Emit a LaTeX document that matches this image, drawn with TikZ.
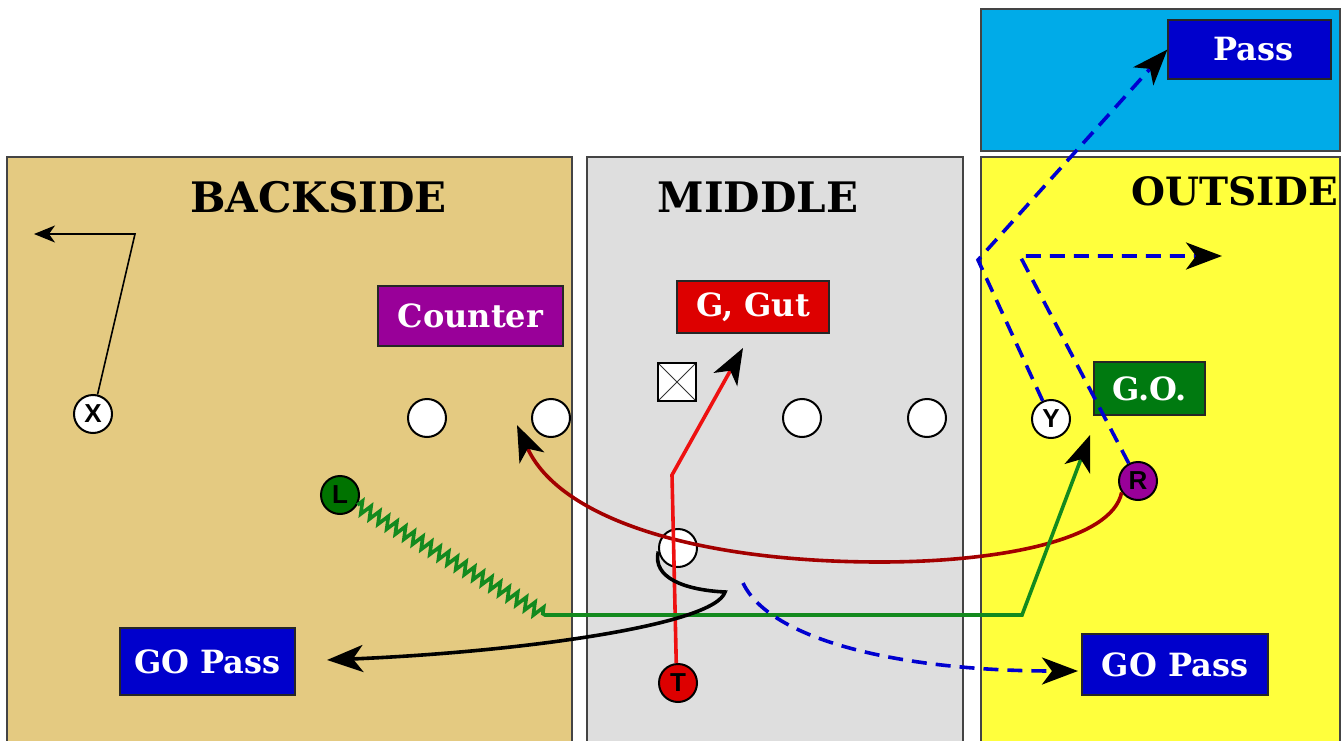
\documentclass[tikz,border=0pt]{standalone}
\usepackage{fontspec}
\usetikzlibrary{arrows.meta,decorations.pathmorphing}
\newfontfamily\titlefont{DejaVu Serif}
\newfontfamily\tagfont{Liberation Sans}

\definecolor{backtan}{HTML}{E4CA81}
\definecolor{midgray}{HTML}{DEDEDE}
\definecolor{outyellow}{HTML}{FFFF3C}
\definecolor{skyblue}{HTML}{00ABE8}
\definecolor{labelblue}{HTML}{0000CC}
\definecolor{counterpurple}{HTML}{990099}
\definecolor{gutred}{HTML}{DD0000}
\definecolor{gogreen}{HTML}{007A10}
\definecolor{routered}{HTML}{EE1111}
\definecolor{routedarkred}{HTML}{A30000}
\definecolor{routegreen}{HTML}{138A1E}
\definecolor{routeblue}{HTML}{0000D0}
\definecolor{panelline}{HTML}{444444}

\begin{document}
\begin{tikzpicture}[x=1pt,y=-1pt,
  panel/.style={draw=panelline,line width=1.6pt},
  zonetitle/.style={anchor=base,inner sep=0pt,font=\titlefont\bfseries\fontsize{42}{42}\selectfont},
  playlabel/.style={draw=black!85,line width=1.2pt,inner sep=0pt,text=white,
    font=\titlefont\bfseries\fontsize{32}{32}\selectfont},
  player/.style={circle,draw=black,line width=2pt,minimum size=38pt,inner sep=0pt,
    font=\tagfont\bfseries\fontsize{26}{26}\selectfont},
  bigtip/.style={-{Stealth[length=36pt,width=27pt,inset=10pt,color=black]}},
  smalltip/.style={-{Stealth[length=21pt,width=17pt,inset=6pt,color=black]}},
  route/.style={line width=3.6pt},
  blueroute/.style={route,draw=routeblue,dash pattern=on 15pt off 9pt}
]
\useasboundingbox (0,0) rectangle (1341,741);
\fill[white] (0,0) rectangle (1341,741);

% zone panels
\draw[panel,fill=backtan] (7,157) rectangle (572,760);
\draw[panel,fill=midgray] (587,157) rectangle (963,760);
\draw[panel,fill=outyellow] (981,157) rectangle (1340,760);
\draw[panel,fill=skyblue] (981,9) rectangle (1340,151);

% zone titles
\node[zonetitle] (tback) at (318.5,212) {BACKSIDE};
\node[zonetitle] (tmid) at (758,212) {MIDDLE};
\node[zonetitle,font=\titlefont\bfseries\fontsize{39}{39}\selectfont] (tout) at (1235,205) {OUTSIDE};

% play labels
\node[playlabel,fill=counterpurple,minimum width=185pt,minimum height=60pt] (counter) at (470.5,316) {Counter};
\node[playlabel,fill=gutred,minimum width=152pt,minimum height=52pt] (gut) at (753,307) {G, Gut};
\node[playlabel,fill=labelblue,minimum width=163pt,minimum height=59pt] (pass) at (1249.5,49.5) {\hspace*{8pt}Pass};
\node[playlabel,fill=gogreen,minimum width=111pt,minimum height=53pt] (go) at (1149.5,388.5) {G.O.};
\node[playlabel,fill=labelblue,minimum width=186pt,minimum height=61pt] (gopassR) at (1175,664.5) {GO Pass};
\node[playlabel,fill=labelblue,minimum width=175pt,minimum height=67pt] (gopassL) at (207.5,661.5) {GO Pass};

% offensive line and backs
\node[player,fill=white] (o1) at (427,418) {};
\node[player,fill=white] (o2) at (551,418) {};
\node[draw=black,line width=2.2pt,fill=white,minimum size=38pt,inner sep=0pt,
  path picture={\draw[line width=0.9pt,black!80]
    (path picture bounding box.north west) -- (path picture bounding box.south east)
    (path picture bounding box.north east) -- (path picture bounding box.south west);}]
  (C) at (677,382) {};
\node[player,fill=white] (o3) at (802,418) {};
\node[player,fill=white] (o4) at (927,418) {};
\node[player,fill=white] (QB) at (678,548) {};

\node[player,fill=white] (X) at (93,414) {X};
\node[player,fill=white] (Y) at (1051,419) {Y};
\node[player,fill=green!45!black] (L) at (340,495) {L};
\node[player,fill=gutred] (T) at (678,683) {T};
\node[player,fill=counterpurple] (R) at (1138,481) {R};

% route corners and ends
\coordinate (xc) at (135,234);
\coordinate (xt) at (34,234);
\coordinate (yc) at (978,260);
\coordinate (rc) at (1020,256);
\coordinate (rt) at (1222,256);
\coordinate (lz) at (545,615);
\coordinate (lc) at (1022,615);
\coordinate (lt) at (1090,435);
\coordinate (tc) at (672,475);
\coordinate (tt) at (743,348);
\coordinate (cm) at (880,562);
\coordinate (ct) at (517,425);
\coordinate (qh) at (725,592);
\coordinate (qt) at (327,660);
\coordinate (bs) at (743,583);
\coordinate (bt) at (1078,671);

% X route
\draw[line width=1.6pt,smalltip] (X) -- (xc) -- (xt);

% outside pass routes
\draw[blueroute,bigtip] (Y) -- (yc) -- (pass.west);
\draw[blueroute,bigtip] (R) -- (rc) -- (rt);

% counter run
\draw[route,draw=routedarkred,bigtip] (R.215) .. controls (1112,540) and (1000,562) .. (cm)
  .. controls (700,562) and (560,520) .. (ct);

% G, Gut run
\draw[route,draw=routered,bigtip] (T.95) -- (tc) -- (tt);

% G.O. route
\draw[route,draw=routegreen,bigtip] (L.-30)
  decorate[decoration={zigzag,segment length=10pt,amplitude=6pt}] {-- (lz)}
  -- (lc) -- (lt);

% quarterback action
\draw[route,draw=black,bigtip] (QB.190) .. controls (652,578) and (685,590) .. (qh)
  .. controls (715,625) and (520,652) .. (qt);
\draw[blueroute,bigtip] (bs) .. controls (770,640) and (900,671) .. (bt);
\end{tikzpicture}
\end{document}
